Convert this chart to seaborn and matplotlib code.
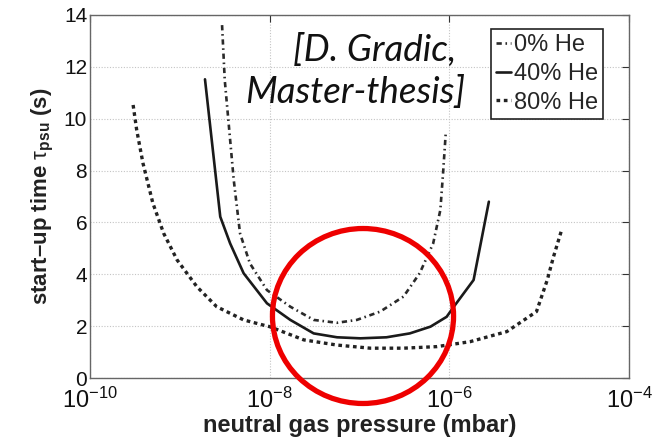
import numpy as np
import pandas as pd
import matplotlib
matplotlib.use("Agg")
import matplotlib.pyplot as plt
import seaborn as sns
from matplotlib.patches import Ellipse

# ---- data (log10 pressure in mbar, start-up time in s) ----
he0_logp = [-8.53, -8.50, -8.46, -8.40, -8.33, -8.22, -8.03, -7.77, -7.51, -7.25,
            -7.03, -6.77, -6.51, -6.33, -6.18, -6.10, -6.07, -6.04]
he0_t = [13.61, 11.49, 9.95, 7.64, 5.58, 4.42, 3.39, 2.75, 2.24, 2.13,
         2.24, 2.56, 3.14, 4.04, 5.19, 6.48, 7.89, 9.44]

he40_logp = [-8.72, -8.55, -8.44, -8.29, -8.03, -7.77, -7.51, -7.25, -6.99,
             -6.70, -6.44, -6.21, -6.03, -5.95, -5.73, -5.56]
he40_t = [11.52, 6.22, 5.19, 4.04, 2.88, 2.24, 1.72, 1.57, 1.53,
          1.57, 1.72, 1.98, 2.36, 2.75, 3.78, 6.80]

he80_logp = [-9.52, -9.48, -9.41, -9.30, -9.18, -9.03, -8.81, -8.59, -8.29, -8.07,
             -8.00, -7.62, -7.25, -6.88, -6.51, -6.14, -5.77, -5.36, -5.03, -4.91,
             -4.84, -4.75]
he80_t = [10.53, 9.56, 8.28, 6.74, 5.58, 4.55, 3.52, 2.75, 2.24, 2.04,
          1.98, 1.47, 1.27, 1.15, 1.15, 1.21, 1.40, 1.79, 2.56, 3.78,
          4.68, 5.71]

labels = ["0% He", "40% He", "80% He"]
x_ticks = [1e-10, 1e-8, 1e-6, 1e-4]
y_ticks = [0, 2, 4, 6, 8, 10, 12, 14]

sns.set_theme(style="white")
plt.rcParams['font.family'] = ['Liberation Sans', 'DejaVu Sans']
plt.rcParams['mathtext.fontset'] = 'custom'
plt.rcParams['mathtext.rm'] = 'Liberation Sans'
plt.rcParams['mathtext.it'] = 'Liberation Sans:italic'
plt.rcParams['mathtext.bf'] = 'Liberation Sans:bold'

fig = plt.figure(figsize=(6.69, 4.47), dpi=100)
ax = fig.add_axes([90 / 669, 1 - 378 / 447, 539 / 669, 363 / 447])

frames = []
for lab, lp, t in zip(labels, [he0_logp, he40_logp, he80_logp], [he0_t, he40_t, he80_t]):
    frames.append(pd.DataFrame({"p": 10.0 ** np.array(lp), "t": t, "mix": lab}))
df = pd.concat(frames, ignore_index=True)

styles = {
    "0% He": dict(color="#2a2a2a", lw=1.9, ls=(0, (2.0, 1.4, 0.6, 1.4))),
    "40% He": dict(color="#1a1a1a", lw=1.9, ls="-"),
    "80% He": dict(color="#222222", lw=2.4, ls=(0, (1.1, 1.1))),
}
for lab in labels:
    sub = df[df["mix"] == lab]
    st = styles[lab]
    sns.lineplot(data=sub, x="p", y="t", ax=ax, color=st["color"], linewidth=st["lw"],
                 linestyle=st["ls"], label=lab, sort=False, estimator=None)

ax.set_xscale("log")
ax.set_xlim(1e-10, 1e-4)
ax.set_ylim(0, 14)
ax.set_xticks(x_ticks)
ax.set_yticks(y_ticks)
ax.minorticks_off()
ax.tick_params(axis="both", which="major", direction="in", length=5, width=0.8,
               top=True, right=True, colors="#333333", labelcolor="#111111")
ax.tick_params(axis="x", labelsize=17, pad=7)
ax.tick_params(axis="y", labelsize=15, pad=2)
ax.grid(True, which="major", linestyle=(0, (1, 1.5)), color="#c4c4c4", linewidth=0.8)
for s in ax.spines.values():
    s.set_color("#666666")
    s.set_linewidth(1.0)

ax.set_xlabel("neutral gas pressure (mbar)", fontsize=17, fontweight="bold", color="#222222", labelpad=1)
ax.set_ylabel(r"start–up time $\mathrm{τ}_{\mathbf{psu}}$ (s)", fontsize=16, fontweight="bold",
              color="#222222", labelpad=6)

leg = ax.legend(loc="upper right", bbox_to_anchor=(0.952, 0.961), borderaxespad=0,
                fontsize=17, frameon=True, fancybox=False, framealpha=1,
                handlelength=0.65, handletextpad=0.1, labelspacing=0.28, borderpad=0.22)
leg.get_frame().set_edgecolor("#222222")
leg.get_frame().set_linewidth(1.2)

fig.text(375 / 669, 1 - 50 / 447, "[D. Gradic,", fontsize=26.5, style="italic",
         family=["Lato", "DejaVu Sans"], ha="center", va="center", color="#111111")
fig.text(355 / 669, 1 - 92 / 447, "Master-thesis]", fontsize=26.5, style="italic",
         family=["Lato", "DejaVu Sans"], ha="center", va="center", color="#111111")

ell = Ellipse((0.5065, 0.1708), 0.336, 0.482, transform=ax.transAxes, fill=False,
              edgecolor="#ee0000", linewidth=3.8, clip_on=False, zorder=10)
ax.add_patch(ell)

fig.savefig("out.png", dpi=100, facecolor="white")
